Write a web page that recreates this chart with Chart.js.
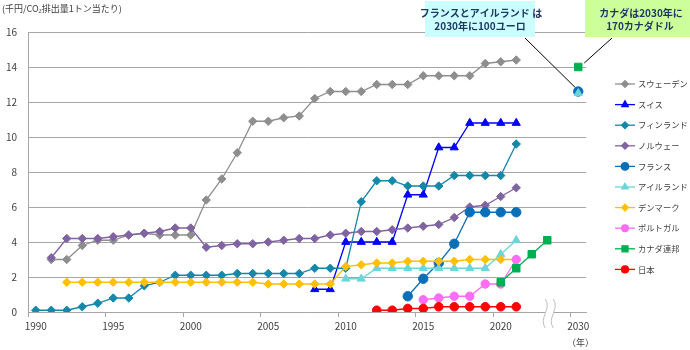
<!DOCTYPE html>
<html lang="ja">
<head>
<meta charset="UTF-8">
<title>各国の炭素税率の推移</title>
<script src="https://cdn.jsdelivr.net/npm/chart.js"></script>
<style>
  html, body { margin: 0; padding: 0; background: #fff; }
  #wrap { position: relative; width: 690px; height: 350px; }
</style>
</head>
<body>
<div id="wrap"><canvas id="taxChart"></canvas></div>
<script>
// 横軸の年（2025〜2029は省略）
var years = ['1990', '1991', '1992', '1993', '1994', '1995', '1996', '1997', '1998', '1999',
             '2000', '2001', '2002', '2003', '2004', '2005', '2006', '2007', '2008', '2009',
             '2010', '2011', '2012', '2013', '2014', '2015', '2016', '2017', '2018', '2019',
             '2020', '2021', '2022', '2023', '2024', '2030'];
var shownYears = ['1990', '1995', '2000', '2005', '2010', '2015', '2020', '2030'];
var yTicks = [0, 2, 4, 6, 8, 10, 12, 14, 16];

// 税率（千円/CO2排出量1トン当たり）。各配列は開始年から毎年
var sweden      = [3.0, 3.0, 3.8, 4.1, 4.1, 4.4, 4.5, 4.4, 4.4, 4.4, 6.4, 7.6, 9.1, 10.9, 10.9, 11.1,
                   11.2, 12.2, 12.6, 12.6, 12.6, 13.0, 13.0, 13.0, 13.5, 13.5, 13.5, 13.5, 14.2, 14.3, 14.4];
var switzerland = [1.3, 1.3, 4.0, 4.0, 4.0, 4.0, 6.7, 6.7, 9.4, 9.4, 10.8, 10.8, 10.8, 10.8];
var finland     = [0.1, 0.1, 0.1, 0.3, 0.5, 0.8, 0.8, 1.5, 1.7, 2.1, 2.1, 2.1, 2.1, 2.2, 2.2, 2.2,
                   2.2, 2.2, 2.5, 2.5, 2.5, 6.3, 7.5, 7.5, 7.2, 7.2, 7.2, 7.8, 7.8, 7.8, 7.8, 9.6];
var norway      = [3.1, 4.2, 4.2, 4.2, 4.3, 4.4, 4.5, 4.6, 4.8, 4.8, 3.7, 3.8, 3.9, 3.9, 4.0, 4.1,
                   4.2, 4.2, 4.4, 4.5, 4.6, 4.6, 4.7, 4.8, 4.9, 5.0, 5.4, 6.0, 6.1, 6.6, 7.1];
var france      = [0.9, 1.9, 2.8, 3.9, 5.7, 5.7, 5.7, 5.7];
var ireland     = [1.9, 1.9, 2.5, 2.5, 2.5, 2.5, 2.5, 2.5, 2.5, 2.5, 3.3, 4.1];
var denmark     = [1.7, 1.7, 1.7, 1.7, 1.7, 1.7, 1.7, 1.7, 1.7, 1.7, 1.7, 1.7, 1.7, 1.6, 1.6, 1.6,
                   1.6, 1.6, 2.6, 2.7, 2.8, 2.8, 2.9, 2.9, 2.9, 2.9, 3.0, 3.0, 3.0, 3.0];
var portugal    = [0.7, 0.8, 0.9, 0.9, 1.6, 1.6, 3.0];
var canada      = [1.7, 2.5, 3.3, 4.1];
var japan       = [0.1, 0.1, 0.2, 0.2, 0.3, 0.3, 0.3, 0.3, 0.3, 0.3];

// 2030年の予定税率
var france2030 = 12.6;
var ireland2030 = 12.5;
var canada2030 = 14.0;

// 開始年から並べた値を横軸の位置に展開する
function place(from, values, v2030) {
  var out = years.map(function () { return null; });
  values.forEach(function (v, i) { out[years.indexOf(String(from + i))] = v; });
  if (v2030 !== undefined) out[years.indexOf('2030')] = v2030;
  return out;
}

var series = [
  { label: 'スウェーデン', data: place(1991, sweden),      color: '#8e8e8e', shape: 'rectRot',  r: 4.2 },
  { label: 'スイス',       data: place(2008, switzerland), color: '#0000ff', shape: 'triangle', r: 4.7 },
  { label: 'フィンランド', data: place(1990, finland),     color: '#1388ab', shape: 'rectRot',  r: 4.2 },
  { label: 'ノルウェー',   data: place(1991, norway),      color: '#8064a2', shape: 'rectRot',  r: 4.2 },
  { label: 'フランス',     data: place(2014, france, france2030),   color: '#0b6fb8', shape: 'circle', r: 4.7 },
  { label: 'アイルランド', data: place(2010, ireland, ireland2030), color: '#6cd5d9', shape: 'triangle', r: 4.7 },
  { label: 'デンマーク',   data: place(1992, denmark),     color: '#ffc000', shape: 'rectRot',  r: 4.2 },
  { label: 'ポルトガル',   data: place(2015, portugal),    color: '#ff6cf5', shape: 'circle',   r: 4.2 },
  { label: 'カナダ連邦',   data: place(2020, canada, canada2030),   color: '#00b050', shape: 'rect', r: 5.3 },
  { label: '日本',         data: place(2012, japan),       color: '#ff0000', shape: 'circle',   r: 4.3 }
];

var FONT = "'Noto Sans CJK JP', 'Noto Sans', sans-serif";
var GRID = '#a6a6a6';
var TEXT = '#404040';

// S字の波線
function wave(ctx, x, top, bot) {
  var h = bot - top;
  ctx.moveTo(x, top);
  ctx.bezierCurveTo(x + 7, top + h * 0.35, x - 7, bot - h * 0.35, x, bot);
}

// 凡例・注記・軸の省略記号
var decorations = {
  id: 'decorations',
  afterDraw: function (chart) {
    var ctx = chart.ctx;
    var xs = chart.scales.x, ys = chart.scales.y;
    ctx.save();

    // 軸の省略記号（2023と2030の間）
    var bx = xs.getPixelForValue(33) - 2;
    var top = 299, bot = 328, gap = 8;
    ctx.fillStyle = '#fff';
    ctx.fillRect(bx, 308, gap, 10);
    ctx.strokeStyle = '#bfbfbf';
    ctx.lineWidth = 1;
    ctx.beginPath();
    wave(ctx, bx, top, bot);
    wave(ctx, bx + gap, top, bot);
    ctx.stroke();

    // 単位
    ctx.fillStyle = TEXT;
    ctx.font = '9px ' + FONT;
    ctx.textBaseline = 'middle';
    ctx.textAlign = 'left';
    ctx.fillText('(千円/CO₂排出量1トン当たり)', 2, 9);
    ctx.textAlign = 'right';
    ctx.fillText('（年）', 594, 343);

    // 凡例
    ctx.textAlign = 'left';
    ctx.font = '8.3px ' + FONT;
    series.forEach(function (s, i) {
      var y = 84 + i * 20.6;
      ctx.strokeStyle = s.color;
      ctx.fillStyle = s.color;
      ctx.lineWidth = 1.3;
      ctx.beginPath();
      ctx.moveTo(615, y);
      ctx.lineTo(635, y);
      ctx.stroke();
      Chart.helpers.drawPoint(ctx, { pointStyle: s.shape, rotation: 0, radius: s.r * 0.8, borderWidth: 1 }, 625, y);
      ctx.fillStyle = TEXT;
      ctx.fillText(s.label, 638, y);
    });

    // 2030年の注記
    var x30 = xs.getPixelForValue(35);
    ctx.fillStyle = '#ccffff';
    ctx.fillRect(425, 1, 110, 36);
    ctx.fillStyle = '#ccff99';
    ctx.fillRect(585, 0, 105, 37);

    ctx.fillStyle = '#1f3864';
    ctx.font = 'bold 10px ' + FONT;
    ctx.textAlign = 'center';
    ctx.fillText('フランスとアイルランド は', 481, 13);
    ctx.fillText('2030年に100ユーロ', 480, 26);
    ctx.fillText('カナダは2030年に', 641, 13);
    ctx.fillText('170カナダドル', 640, 26);

    ctx.strokeStyle = '#000';
    ctx.lineWidth = 1;
    ctx.beginPath();
    ctx.moveTo(525, 38);
    ctx.lineTo(x30 - 3, ys.getPixelForValue(france2030) - 4);
    ctx.moveTo(612, 38);
    ctx.lineTo(x30 + 6, ys.getPixelForValue(canada2030) - 4);
    ctx.stroke();

    ctx.restore();
  }
};

new Chart(document.getElementById('taxChart'), {
  type: 'line',
  data: {
    labels: years,
    datasets: series.map(function (s, i) {
      return {
        label: s.label,
        data: s.data,
        borderColor: s.color,
        backgroundColor: s.color,
        borderWidth: 1.3,
        pointStyle: s.shape,
        pointRadius: s.r,
        pointHoverRadius: s.r,
        pointBackgroundColor: s.color,
        pointBorderColor: s.color,
        pointBorderWidth: 1,
        tension: 0,
        spanGaps: false,
        order: series.length - i
      };
    })
  },
  options: {
    responsive: true,
    maintainAspectRatio: false,
    animation: false,
    layout: { padding: { top: 32, right: 104, bottom: 0, left: 0 } },
    plugins: {
      legend: { display: false },
      tooltip: { enabled: false }
    },
    scales: {
      x: {
        type: 'category',
        offset: true,
        afterFit: function (scale) { scale.height = 38; },
        grid: {
          offset: true,
          drawOnChartArea: false,
          drawTicks: true,
          tickLength: 5,
          color: function (c) {
            return (c.index !== undefined && Number(years[c.index]) % 5 === 0) ? GRID : 'transparent';
          }
        },
        border: { display: true, color: GRID },
        ticks: {
          autoSkip: false,
          maxRotation: 0,
          padding: 3,
          color: TEXT,
          font: { family: FONT, size: 10 },
          callback: function (v, i) {
            return shownYears.indexOf(years[i]) >= 0 ? years[i] : '';
          }
        }
      },
      y: {
        min: 0,
        max: 16,
        afterFit: function (scale) { scale.width = 28; },
        afterBuildTicks: function (scale) {
          scale.ticks = yTicks.map(function (v) { return { value: v }; });
        },
        grid: { color: GRID, drawTicks: false },
        border: { display: true, color: GRID },
        ticks: {
          padding: 11,
          color: TEXT,
          font: { family: FONT, size: 10 }
        }
      }
    }
  },
  plugins: [decorations]
});
</script>
</body>
</html>
